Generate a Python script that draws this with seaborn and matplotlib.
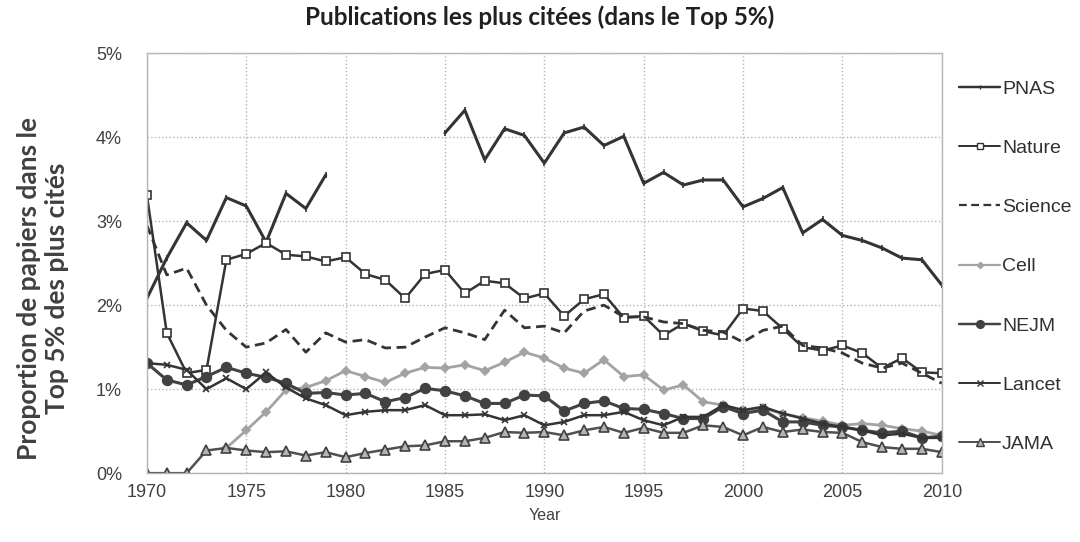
import numpy as np
import pandas as pd
import matplotlib.pyplot as plt
from matplotlib.lines import Line2D
from matplotlib.ticker import FuncFormatter
import seaborn as sns

nan = np.nan
years = list(range(1970, 2011))

pnas = [2.08, 2.56, 2.98, 2.77, 3.28, 3.18, 2.75, 3.33, 3.15, 3.55,
        nan, nan, nan, nan, nan,
        4.05, 4.32, 3.73, 4.10, 4.02, 3.69, 4.05, 4.12, 3.90, 4.01,
        3.45, 3.58, 3.43, 3.49, 3.49, 3.17, 3.27, 3.40, 2.86, 3.02,
        2.83, 2.77, 2.68, 2.56, 2.54, 2.24]
nature = [3.31, 1.67, 1.19, 1.23, 2.54, 2.61, 2.74, 2.60, 2.58, 2.52,
          2.57, 2.37, 2.30, 2.08, 2.37, 2.42, 2.14, 2.29, 2.26, 2.08,
          2.14, 1.87, 2.07, 2.13, 1.85, 1.87, 1.64, 1.78, 1.69, 1.64,
          1.96, 1.93, 1.72, 1.50, 1.46, 1.52, 1.43, 1.25, 1.37, 1.20, 1.19]
science = [2.95, 2.36, 2.44, 2.00, 1.70, 1.50, 1.55, 1.71, 1.44, 1.67,
           1.56, 1.59, 1.49, 1.50, 1.62, 1.73, 1.67, 1.59, 1.94, 1.73,
           1.75, 1.67, 1.93, 2.00, 1.86, 1.86, 1.80, 1.78, 1.70, 1.68,
           1.56, 1.70, 1.75, 1.52, 1.49, 1.43, 1.31, 1.25, 1.31, 1.19, 1.07]
cell = [nan, nan, nan, nan, 0.30, 0.51, 0.73, 0.99, 1.02, 1.10,
        1.22, 1.15, 1.08, 1.19, 1.26, 1.25, 1.29, 1.22, 1.32, 1.44,
        1.37, 1.25, 1.19, 1.35, 1.15, 1.17, 0.99, 1.05, 0.85, 0.81,
        0.75, 0.77, 0.71, 0.66, 0.62, 0.57, 0.59, 0.57, 0.53, 0.50, 0.45]
nejm = [1.31, 1.11, 1.05, 1.15, 1.26, 1.19, 1.14, 1.07, 0.95, 0.96,
        0.93, 0.95, 0.85, 0.90, 1.01, 0.98, 0.92, 0.83, 0.83, 0.93,
        0.92, 0.74, 0.83, 0.86, 0.77, 0.76, 0.71, 0.65, 0.65, 0.79,
        0.71, 0.75, 0.61, 0.61, 0.57, 0.55, 0.51, 0.48, 0.50, 0.42, 0.44]
lancet = [1.31, 1.29, 1.23, 1.00, 1.13, 1.00, 1.20, 1.02, 0.89, 0.81,
          0.69, 0.73, 0.75, 0.75, 0.81, 0.69, 0.69, 0.70, 0.63, 0.69,
          0.57, 0.61, 0.69, 0.69, 0.73, 0.63, 0.57, 0.67, 0.67, 0.81,
          0.75, 0.79, 0.71, 0.65, 0.59, 0.55, 0.51, 0.45, 0.47, 0.42, 0.42]
jama = [0.00, 0.00, 0.00, 0.27, 0.30, 0.27, 0.25, 0.26, 0.21, 0.25,
        0.19, 0.24, 0.28, 0.32, 0.33, 0.38, 0.38, 0.42, 0.49, 0.48,
        0.49, 0.45, 0.51, 0.55, 0.48, 0.54, 0.48, 0.48, 0.57, 0.55,
        0.45, 0.55, 0.49, 0.52, 0.49, 0.48, 0.37, 0.31, 0.29, 0.29, 0.25]

journals = ['PNAS', 'Nature', 'Science', 'Cell', 'NEJM', 'Lancet', 'JAMA']
series = [pnas, nature, science, cell, nejm, lancet, jama]

# long table, with a segment id so the PNAS gap stays a gap
rows = []
for name, vals in zip(journals, series):
    seg = 0
    for yr, v in zip(years, vals):
        if np.isnan(v):
            seg += 1
            continue
        rows.append((name, seg, yr, v))
df = pd.DataFrame(rows, columns=['journal', 'seg', 'year', 'value'])

dark = '#343434'
styles = {
    'PNAS':    dict(color=dark, lw=2.2, ls='-', marker='|', ms=4, mfc=dark, mec=dark),
    'Nature':  dict(color=dark, lw=1.8, ls='-', marker='s', ms=6, mfc='white', mec=dark),
    'Science': dict(color=dark, lw=2.0, ls=(0, (3.5, 2)), marker=None, ms=0, mfc=dark, mec=dark),
    'Cell':    dict(color='#a3a3a3', lw=2.0, ls='-', marker='D', ms=4, mfc='#a3a3a3', mec='#a3a3a3'),
    'NEJM':    dict(color='#424242', lw=2.2, ls='-', marker='o', ms=7, mfc='#424242', mec='#424242'),
    'Lancet':  dict(color=dark, lw=1.8, ls='-', marker='x', ms=5, mfc=dark, mec=dark),
    'JAMA':    dict(color='#505050', lw=1.8, ls='-', marker='^', ms=7, mfc='#b4b4b4', mec='#404040'),
}

sns.set_style('white')
plt.rcParams['font.family'] = ['Liberation Sans', 'DejaVu Sans']

fig = plt.figure(figsize=(10.8, 5.42), dpi=100)
ax = fig.add_axes([0.136, 0.127, 0.736, 0.775])

for name in journals:
    st = styles[name]
    sub = df[df['journal'] == name]
    sns.lineplot(data=sub, x='year', y='value', units='seg', estimator=None,
                 color=st['color'], linewidth=st['lw'], linestyle=st['ls'],
                 marker=st['marker'], markersize=st['ms'],
                 markerfacecolor=st['mfc'], markeredgecolor=st['mec'],
                 markeredgewidth=1.2, ax=ax, legend=False)

ax.set_xlim(1970, 2010)
ax.set_ylim(0, 5)
ax.set_xticks(range(1970, 2011, 5))
ax.set_yticks(range(0, 6))
ax.yaxis.set_major_formatter(FuncFormatter(lambda v, p: f'{int(v)}%'))
ax.grid(True, color='#b5b5b5', linestyle=':', linewidth=1.0)
for sp in ax.spines.values():
    sp.set_color('#b5b5b5')
    sp.set_linewidth(1.0)
ax.tick_params(axis='both', labelsize=13, labelcolor='#404040', color='#b5b5b5',
               length=5, width=1.0, direction='out')
ax.tick_params(axis='x', pad=3)
ax.tick_params(axis='y', pad=13)

ax.set_xlabel('Year', fontsize=11.5, color='#404040', labelpad=5)
ax.set_ylabel('Proportion de papiers dans le\nTop 5% des plus cités',
              fontsize=19, fontweight='bold', color='#404040',
              family=['Lato', 'DejaVu Sans'], linespacing=1.2)
ax.yaxis.set_label_coords(-0.098, 0.44)
fig.suptitle('Publications les plus citées (dans le Top 5%)', x=0.5, y=0.99,
             fontsize=17.5, fontweight='bold', color='#202020',
             family=['Lato', 'DejaVu Sans'])

handles = []
for name in journals:
    st = styles[name]
    handles.append(Line2D([0], [0], color=st['color'], lw=st['lw'] * 0.8, ls=st['ls'],
                          marker=st['marker'], markersize=st['ms'] * 0.8,
                          markerfacecolor=st['mfc'], markeredgecolor=st['mec']))
fig.legend(handles, journals, loc='center left', bbox_to_anchor=(0.872, 0.508),
           frameon=False, fontsize=14, labelspacing=2.14, handlelength=2.1,
           handletextpad=0.1, labelcolor='#303030')

fig.savefig('out.png', dpi=100)
